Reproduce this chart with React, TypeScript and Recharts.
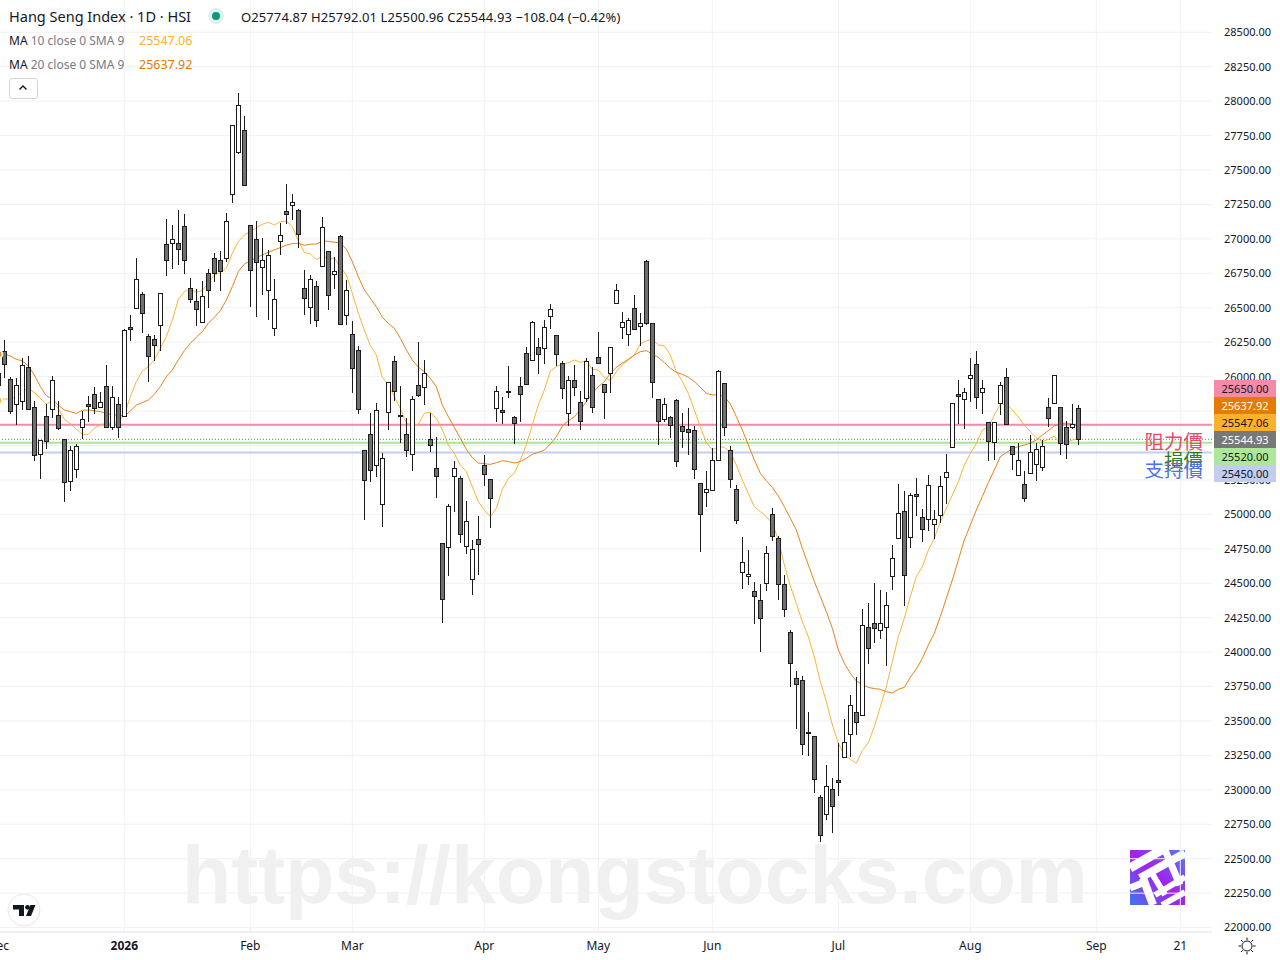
import React from 'react';
import {
  Bar,
  CartesianGrid,
  ComposedChart,
  Line,
  ReferenceLine,
  XAxis,
  YAxis,
} from 'recharts';

// daily candles, first entry is the one cut off by the left edge
const opens = [
  26024,
  26184, 25981, 25799, 25826, 26068, 25778, 25436, 25712, 25763, 25720,
  25545, 25240, 25327, 25632, 25799, 25872, 25778, 25930, 25632, 25799,
  25712, 26358, 26501, 26598, 26298, 26271, 26373, 26961, 26968, 26968,
  27092, 26641, 26547, 26395, 26750, 26859, 26845, 26859, 27324, 27629,
  27789, 27099, 26997, 26794, 26627, 26351, 26983, 27201, 27244, 27208,
  26641, 26504, 26656, 26801, 26910, 26743, 27019, 26445, 26307, 26191,
  25465, 25581, 25356, 25073, 25741, 26112, 25720, 25581, 25436, 25937,
  25922, 25545, 25334, 24790, 24761, 25276, 25262, 24768, 24528, 24819,
  25356, 25254, 25770, 25755, 25896, 25705, 25930, 26169, 26118, 26213,
  26205, 26438, 26300, 26097, 25733, 25973, 25813, 25842, 26009, 26140,
  25944, 26029, 26532, 26358, 26307, 26496, 26365, 26837, 26387, 25835,
  25690, 25705, 25828, 25639, 25617, 25610, 25225, 25160, 25175, 25393,
  25951, 25465, 25182, 24579, 24550, 24441, 24376, 24499, 25000, 24826,
  24492, 24144, 23810, 23795, 23418, 23389, 22946, 22822, 23004, 23069,
  23236, 23403, 23563, 23541, 24180, 24209, 24158, 24180, 24550, 24826,
  25022, 24833, 25146, 24979, 24964, 24928, 24993, 25269, 25487, 25872,
  25835, 25988, 26089, 25886, 25668, 25523, 25806, 25995, 25494, 25283,
  25218, 25298, 25363, 25342, 25777, 25806, 25777, 25632, 25632, 25774.87,
];

const highs = [
  26030,
  26266, 25995, 25990, 26133, 26150, 25821, 25540, 25802, 26005, 25821,
  25545, 25497, 25511, 25753, 25860, 25923, 25889, 26085, 25932, 25855,
  26344, 26448, 26862, 26615, 26310, 26303, 26605, 27145, 27101, 27210,
  27181, 26717, 26634, 26695, 26782, 26898, 26910, 27186, 27825, 28057,
  27893, 27099, 27130, 27004, 26917, 26707, 27113, 27399, 27324, 27215,
  26772, 26736, 26692, 27159, 26910, 26867, 27026, 26702, 26402, 26220,
  25465, 25734, 25807, 25444, 25959, 26150, 25932, 25698, 25857, 26251,
  26121, 25738, 25559, 24790, 25073, 25385, 25276, 25095, 24812, 24986,
  25429, 25254, 25930, 25850, 26077, 25712, 25995, 26215, 26402, 26281,
  26409, 26527, 26300, 26111, 26002, 26084, 25896, 26133, 26068, 26322,
  25950, 26213, 26673, 26469, 26423, 26590, 26460, 26847, 26387, 25835,
  25843, 25712, 25835, 25734, 25772, 25639, 25225, 25315, 25480, 26046,
  25951, 25494, 25211, 24836, 24742, 24507, 24492, 24768, 25044, 24841,
  24558, 24161, 23861, 23824, 23563, 23389, 22960, 23178, 23084, 23338,
  23512, 23686, 23817, 24311, 24354, 24499, 24449, 24434, 24775, 25218,
  25167, 25153, 25264, 25037, 25286, 25029, 25279, 25436, 25806, 25973,
  25915, 26133, 26184, 25973, 25668, 25668, 25959, 26060, 25494, 25516,
  25313, 25574, 25516, 25540, 25842, 26009, 25777, 25678, 25799, 25792.01,
];

const lows = [
  25935,
  25993, 25729, 25649, 25758, 25758, 25390, 25260, 25477, 25700, 25613,
  25093, 25173, 25264, 25548, 25671, 25729, 25770, 25632, 25613, 25555,
  25710, 26262, 26501, 26320, 25964, 26114, 26189, 26733, 26784, 26813,
  26748, 26537, 26370, 26392, 26501, 26690, 26625, 26835, 27263, 27619,
  27389, 26508, 26436, 26596, 26414, 26298, 26886, 27111, 27140, 26937,
  26450, 26385, 26363, 26799, 26487, 26639, 26380, 26378, 25884, 25732,
  24962, 25238, 25274, 24911, 25615, 25826, 25519, 25419, 25317, 25850,
  25796, 25455, 25121, 24209, 24555, 25020, 24795, 24715, 24412, 24562,
  25208, 24904, 25673, 25659, 25847, 25513, 25673, 25944, 26116, 26022,
  26094, 26348, 26077, 25840, 25644, 25862, 25615, 25816, 25738, 26094,
  25693, 25884, 26525, 26276, 26225, 26336, 26225, 26373, 25847, 25506,
  25673, 25557, 25346, 25484, 25434, 25259, 24729, 25056, 25175, 25393,
  25572, 25194, 24933, 24461, 24490, 24207, 24003, 24446, 24804, 24381,
  24257, 23749, 23444, 23256, 23248, 22980, 22624, 22784, 22689, 22958,
  23229, 23236, 23401, 23541, 23916, 24069, 24098, 23902, 24454, 24824,
  24337, 24758, 24991, 24802, 24882, 24819, 24935, 25073, 25487, 25659,
  25622, 25813, 25765, 25731, 25390, 25397, 25724, 25654, 25325, 25281,
  25092, 25298, 25245, 25317, 25637, 25806, 25434, 25404, 25622, 25500.96,
];

const closes = [
  25939,
  26095, 25753, 25937, 26082, 25763, 25429, 25538, 25531, 25974, 25625,
  25233, 25465, 25494, 25690, 25790, 25770, 25814, 25632, 25850, 25632,
  26337, 26344, 26707, 26460, 26148, 26228, 26605, 26845, 26997, 26925,
  26845, 26562, 26489, 26583, 26627, 26750, 26765, 27128, 27825, 27970,
  27389, 26772, 26830, 26845, 26881, 26562, 27026, 27179, 27266, 27033,
  26569, 26707, 26409, 27084, 26591, 26765, 26380, 26627, 26061, 25763,
  25248, 25320, 25756, 25407, 25959, 25894, 25712, 25465, 25835, 25864,
  26024, 25501, 25276, 24383, 25058, 25334, 24855, 24950, 24746, 24783,
  25291, 25117, 25893, 25746, 25891, 25661, 25872, 25944, 26394, 26162,
  26358, 26489, 26162, 25915, 25973, 25922, 25676, 26111, 25777, 26097,
  25891, 26213, 26627, 26394, 26409, 26344, 26387, 26387, 25959, 25676,
  25799, 25647, 25385, 25603, 25596, 25327, 25000, 25182, 25393, 26039,
  25632, 25255, 24957, 24652, 24565, 24405, 24245, 24717, 24841, 24492,
  24311, 23919, 23766, 23331, 23411, 23077, 22670, 23026, 22881, 23055,
  23345, 23614, 23490, 24195, 24028, 24173, 24209, 24340, 24681, 25008,
  24558, 25138, 25131, 24891, 25211, 24964, 25204, 25305, 25806, 25857,
  25886, 26009, 25850, 25915, 25530, 25668, 25937, 25654, 25436, 25392,
  25116, 25450, 25472, 25494, 25697, 26009, 25516, 25509, 25654, 25544.93,
];

const ma10 = [
  25826,
  25838, 25836, 25855, 25891, 25915, 25886, 25843, 25802, 25819, 25770,
  25690, 25661, 25618, 25581, 25581, 25625, 25649, 25661, 25666, 25673,
  25722, 25855, 25964, 26041, 26073, 26121, 26206, 26291, 26412, 26562,
  26617, 26637, 26612, 26625, 26680, 26738, 26755, 26787, 26896, 26980,
  27029, 27053, 27082, 27106, 27121, 27101, 27125, 27130, 27089, 26985,
  26903, 26891, 26850, 26871, 26859, 26859, 26799, 26738, 26605, 26460,
  26339, 26225, 26157, 25995, 25940, 25855, 25770, 25661, 25649, 25654,
  25734, 25743, 25697, 25613, 25504, 25443, 25358, 25310, 25201, 25092,
  25032, 24983, 25044, 25182, 25262, 25298, 25395, 25504, 25649, 25794,
  25903, 26041, 26072, 26092, 26101, 26121, 26104, 26116, 26053, 26048,
  25995, 25971, 26036, 26085, 26121, 26157, 26237, 26261, 26271, 26230,
  26223, 26157, 26036, 25964, 25879, 25758, 25637, 25521, 25467, 25492,
  25487, 25448, 25359, 25250, 25153, 25056, 25020, 24984, 24935, 24814,
  24633, 24480, 24354, 24221, 24112, 23967, 23786, 23640, 23471, 23338,
  23253, 23222, 23193, 23285, 23343, 23459, 23604, 23749, 23931, 24112,
  24245, 24403, 24548, 24620, 24741, 24826, 24947, 25044, 25141, 25237,
  25358, 25443, 25516, 25613, 25632, 25721, 25801, 25801, 25758, 25709,
  25649, 25600, 25557, 25528, 25545, 25569, 25516, 25521, 25540, 25547.06,
];

const ma20 = [
  26163,
  26165, 26150, 26126, 26114, 26078, 26012, 25928, 25862, 25836, 25794,
  25758, 25746, 25732, 25756, 25758, 25753, 25746, 25734, 25722, 25722,
  25712, 25751, 25794, 25811, 25831, 25872, 25928, 26000, 26049, 26121,
  26189, 26242, 26286, 26327, 26387, 26431, 26479, 26557, 26654, 26762,
  26818, 26840, 26864, 26884, 26903, 26920, 26937, 26954, 26966, 26968,
  26954, 26961, 26963, 26983, 26983, 26975, 26971, 26925, 26835, 26726,
  26629, 26569, 26508, 26431, 26387, 26351, 26278, 26194, 26121, 26068,
  26036, 25988, 25927, 25794, 25709, 25632, 25552, 25472, 25412, 25373,
  25368, 25363, 25375, 25390, 25385, 25373, 25383, 25407, 25436, 25450,
  25467, 25511, 25564, 25642, 25680, 25709, 25758, 25818, 25879, 25927,
  25964, 26024, 26068, 26097, 26126, 26157, 26181, 26189, 26164, 26140,
  26102, 26060, 26031, 26017, 25995, 25964, 25922, 25879, 25867, 25867,
  25855, 25802, 25710, 25613, 25504, 25395, 25298, 25245, 25196, 25134,
  25056, 24971, 24887, 24754, 24633, 24512, 24403, 24294, 24173, 24016,
  23919, 23846, 23790, 23766, 23744, 23735, 23730, 23713, 23703, 23730,
  23744, 23817, 23878, 23955, 24052, 24137, 24258, 24391, 24524, 24669,
  24814, 24923, 25032, 25129, 25230, 25322, 25419, 25448, 25479, 25492,
  25504, 25516, 25540, 25576, 25608, 25642, 25659, 25663, 25656, 25637.92,
];

const priceTicks = [
  22000, 22250, 22500, 22750, 23000, 23250, 23500, 23750, 24000, 24250, 24500, 24750, 25000, 25250,
  25500, 25750, 26000, 26250, 26500, 26750, 27000, 27250, 27500, 27750, 28000, 28250, 28500,
];

const dateTicks = [-1, 20, 41, 58, 80, 99, 118, 139, 161, 182, 196];
const dateLabels = ['Dec', '2026', 'Feb', 'Mar', 'Apr', 'May', 'Jun', 'Jul', 'Aug', 'Sep', '21'];

const tagValues = ['25650.00', '25637.92', '25547.06', '25544.93', '25520.00', '25450.00'];
const tagFills = ['#f28aa8', '#e37c00', '#fbb12c', '#787878', '#aee79a', '#c2cdf0'];
const tagInks = ['#131722', '#ffffff', '#131722', '#ffffff', '#131722', '#131722'];

const chartData = opens.map((open, i) => ({
  idx: i - 1,
  open,
  high: highs[i],
  low: lows[i],
  close: closes[i],
  wick: [lows[i], highs[i]],
  ma10: ma10[i],
  ma20: ma20[i],
}));

const FONT = '"Noto Sans", sans-serif';
const INK = '#131722';

const Candle = (props: any) => {
  const { x, y, width, height, payload } = props;
  const { open, high, low, close } = payload;
  const toY = (v: number) => y + ((high - v) / (high - low)) * height;
  const cx = Math.floor(x + width / 2) + 1.5;
  const top = Math.round(toY(Math.max(open, close))) + 0.5;
  const bottom = Math.round(toY(Math.min(open, close))) + 0.5;
  return (
    <g>
      <line x1={cx} x2={cx} y1={Math.round(y)} y2={Math.round(y + height)} stroke="#1c1c1c" strokeWidth={1} />
      <rect
        x={cx - 2}
        y={top}
        width={4}
        height={Math.max(bottom - top, 1)}
        fill={close >= open ? '#ffffff' : '#6f6f6f'}
        stroke="#1c1c1c"
        strokeWidth={1}
      />
    </g>
  );
};

const DateTick = (props: any) => {
  const { x, y, payload } = props;
  const label = dateLabels[dateTicks.indexOf(payload.value)];
  return (
    <text
      x={x}
      y={y + 10}
      textAnchor="middle"
      fontFamily={FONT}
      fontSize={12}
      fontWeight={label === '2026' ? 700 : 400}
      fill={INK}
    >
      {label}
    </text>
  );
};

const absolute = (left: number, top: number): React.CSSProperties => ({
  position: 'absolute',
  left,
  top,
  whiteSpace: 'nowrap',
});

const Legend = () => (
  <div style={{ fontFamily: FONT, color: INK }}>
    <div style={{ ...absolute(9, 6), fontSize: 14.5, lineHeight: '20px' }}>Hang Seng Index · 1D · HSI</div>
    <div style={{ ...absolute(208, 8), width: 16, height: 16, borderRadius: 8, background: '#dff2ee' }} />
    <div style={{ ...absolute(212, 12), width: 8, height: 8, borderRadius: 4, background: '#089981' }} />
    <div style={{ ...absolute(241, 7), fontSize: 13, letterSpacing: 0.1, lineHeight: '20px' }}>
      O25774.87 H25792.01 L25500.96 C25544.93 −108.04 (−0.42%)
    </div>
    <div style={{ ...absolute(9, 31), fontSize: 12, lineHeight: '20px' }}>
      MA <span style={{ color: '#787b86' }}>10 close 0 SMA 9</span>
    </div>
    <div style={{ ...absolute(139, 31), fontSize: 12.5, lineHeight: '20px', color: '#fbb12c' }}>25547.06</div>
    <div style={{ ...absolute(9, 55), fontSize: 12, lineHeight: '20px' }}>
      MA <span style={{ color: '#787b86' }}>20 close 0 SMA 9</span>
    </div>
    <div style={{ ...absolute(139, 55), fontSize: 12.5, lineHeight: '20px', color: '#e37c00' }}>25637.92</div>
    <div
      style={{
        ...absolute(9, 78),
        width: 27,
        height: 19,
        border: '1px solid #d1d4dc',
        borderRadius: 3,
      }}
    />
    <svg style={absolute(18, 84)} width={10} height={8}>
      <path d="M1.5 5.5 L5 2 L8.5 5.5" fill="none" stroke={INK} strokeWidth={1.4} />
    </svg>
  </div>
);

const PriceTags = () => (
  <div style={{ fontFamily: FONT }}>
    {tagValues.map((value, i) => (
      <div
        key={value}
        style={{
          ...absolute(1214, 380 + i * 17),
          width: 62,
          height: 17,
          background: tagFills[i],
          color: tagInks[i],
          fontSize: 11,
          lineHeight: '17px',
          textAlign: 'center',
        }}
      >
        {value}
      </div>
    ))}
  </div>
);

const LineNotes = () => (
  <div style={{ fontFamily: '"Noto Sans CJK TC", sans-serif', fontSize: 19.5, lineHeight: '24px' }}>
    <div style={{ position: 'absolute', right: 77, top: 429, color: '#f0476a' }}>阻力價</div>
    <div style={{ position: 'absolute', right: 77, top: 448, color: '#2f7d1e' }}>損價</div>
    <div style={{ position: 'absolute', right: 77, top: 457, color: '#4f74e3' }}>支持價</div>
  </div>
);

const Marks = () => (
  <>
    <div
      style={{
        ...absolute(182, 827),
        fontFamily: '"Liberation Sans", sans-serif',
        fontWeight: 700,
        fontSize: 80.7,
        lineHeight: '96px',
        color: '#f0f0f0',
      }}
    >
      https://kongstocks.com
    </div>
    <svg style={absolute(1130, 850)} width={55} height={55}>
      <defs>
        <linearGradient id="logoFill" x1="1" y1="0" x2="0" y2="1">
          <stop offset="0" stopColor="#4f7df0" />
          <stop offset="0.5" stopColor="#a520ee" />
          <stop offset="1" stopColor="#3f77ee" />
        </linearGradient>
      </defs>
      <rect width={55} height={55} fill="url(#logoFill)" />
      <g stroke="#ffffff" fill="none">
        <path d="M0 18 L35 -2" strokeWidth={9} />
        <path d="M10 28 L55 3" strokeWidth={8} />
        <path d="M0 38 L15 32" strokeWidth={7} />
        <path d="M25 45 L55 27" strokeWidth={6} />
        <path d="M32 55 L55 42" strokeWidth={6} />
        <path d="M13 28 L23 55" strokeWidth={8} />
        <path d="M35 0 L50 35" strokeWidth={7} />
        <path d="M20 20 L35 45" strokeWidth={6} />
      </g>
    </svg>
    <svg style={absolute(7, 893)} width={34} height={34}>
      <circle cx={17} cy={17} r={16} fill="#ffffff" stroke="#e6e7ea" />
      <path d="M6 12 H17 V23 H12 V16.5 H6 Z" fill={INK} />
      <circle cx={20.5} cy={14.3} r={2.4} fill={INK} />
      <path d="M23.5 12 H28.5 L24 23 H19 Z" fill={INK} />
    </svg>
    <svg style={absolute(1238, 937)} width={18} height={18}>
      <circle cx={9} cy={9} r={5} fill="none" stroke={INK} strokeWidth={1} />
      <path
        d="M9 0.5 V3 M9 15 V17.5 M0.5 9 H3 M15 9 H17.5 M3 3 L4.8 4.8 M13.2 13.2 L15 15 M15 3 L13.2 4.8 M4.8 13.2 L3 15"
        stroke={INK}
        strokeWidth={1}
      />
    </svg>
  </>
);

export default function App() {
  return (
    <div style={{ position: 'absolute', left: 0, top: 0, width: 1280, height: 960, overflow: 'hidden', background: '#ffffff' }}>
      <Marks />
      <div style={{ position: 'absolute', left: -12, top: 0 }}>
        <ComposedChart width={1292} height={960} data={chartData} margin={{ top: 0, right: 0, bottom: 0, left: 0 }}>
          <CartesianGrid stroke="#f0f1f4" horizontalValues={priceTicks} verticalValues={dateTicks} />
          <XAxis
            dataKey="idx"
            type="number"
            domain={[-2.722, 201.278]}
            ticks={dateTicks}
            interval={0}
            allowDataOverflow
            height={28}
            tick={<DateTick />}
            tickLine={false}
            stroke="#e0e3eb"
          />
          <YAxis
            orientation="right"
            type="number"
            domain={[21968, 28734.5]}
            ticks={priceTicks}
            interval={0}
            allowDataOverflow
            width={68}
            axisLine={false}
            tickLine={false}
            tickMargin={6}
            tickFormatter={(v: number) => v.toFixed(2)}
            tick={{ fontFamily: FONT, fontSize: 11, fill: INK }}
          />
          <ReferenceLine y={25650} stroke="#f28aa8" strokeWidth={2} />
          <ReferenceLine y={25544.93} stroke="#787878" strokeDasharray="1 2" />
          <ReferenceLine y={25520} stroke="#a6e890" strokeWidth={2} />
          <ReferenceLine y={25450} stroke="#c2cdf0" strokeWidth={2} />
          <Line dataKey="ma10" type="linear" dot={false} stroke="#fbb538" strokeWidth={1} isAnimationActive={false} zIndex={400} />
          <Line dataKey="ma20" type="linear" dot={false} stroke="#e8821a" strokeWidth={1} isAnimationActive={false} zIndex={400} />
          <Bar dataKey="wick" barSize={5} shape={<Candle />} isAnimationActive={false} zIndex={500} />
        </ComposedChart>
      </div>
      <Legend />
      <PriceTags />
      <LineNotes />
    </div>
  );
}
